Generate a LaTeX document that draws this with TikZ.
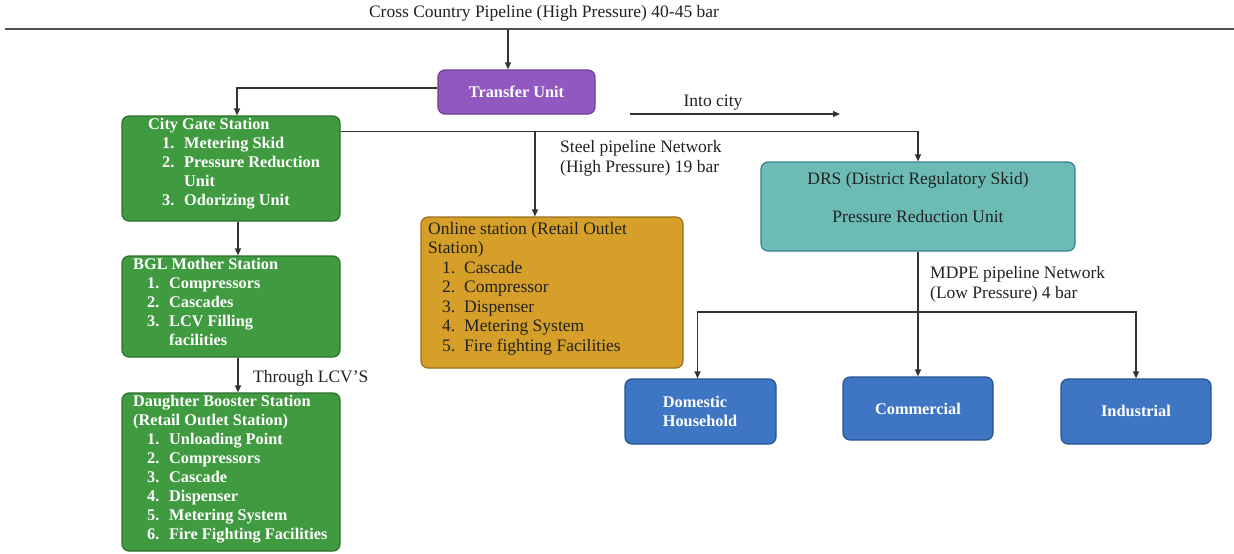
\documentclass[tikz,border=0pt]{standalone}
\usepackage{fontspec}
\setmainfont{Liberation Serif}
\usetikzlibrary{arrows.meta,calc}
\definecolor{cpurple}{HTML}{9158C0}
\definecolor{cpurpled}{HTML}{6A3E97}
\definecolor{cgreen}{HTML}{3F9A40}
\definecolor{cgreend}{HTML}{2D6E2E}
\definecolor{corange}{HTML}{D59F29}
\definecolor{coranged}{HTML}{98701F}
\definecolor{cteal}{HTML}{6CBCB5}
\definecolor{ctealv}{HTML}{3A7F92}
\definecolor{cblue}{HTML}{3E76C4}
\definecolor{cblued}{HTML}{2A548F}
\definecolor{cline}{HTML}{333333}
\definecolor{ctext}{HTML}{222222}
\newcommand\itm[2]{\hspace*{14pt}\makebox[22pt][l]{#1.}#2}
\newcommand\cont{\hspace*{36pt}}
\tikzset{
  box/.style={rectangle, rounded corners=7pt, line width=1.2pt, inner sep=0pt},
  wbold/.style={text=white, font=\fontsize{16.3}{19}\selectfont\bfseries},
  dreg/.style={text=ctext, font=\fontsize{17.5}{19.5}\selectfont},
  boxtext/.style={anchor=north west, inner sep=0pt, align=left},
  lbl/.style={text=ctext, font=\fontsize{17.5}{19.5}\selectfont, inner sep=0pt},
  conn/.style={draw=cline, line width=1.2pt},
  arr/.style={conn, -{Triangle[length=7pt,width=6pt]}},
}
\begin{document}
\begin{tikzpicture}[x=1pt,y=-1pt]
\useasboundingbox (0,0) rectangle (1234,554);
\fill[white] (0,0) rectangle (1234,554);

% boxes
\node[box, fill=cpurple, draw=cpurpled, minimum width=157pt, minimum height=44pt, wbold] (tu) at (516.5,92) {Transfer Unit};
\node[box, fill=cgreen, draw=cgreend, minimum width=218pt, minimum height=105pt] (cg) at (231,168.5) {};
\node[box, fill=cgreen, draw=cgreend, minimum width=218pt, minimum height=101pt] (bgl) at (231,306.5) {};
\node[box, fill=cgreen, draw=cgreend, minimum width=218pt, minimum height=158pt] (dbs) at (231,472) {};
\node[box, fill=corange, draw=coranged, minimum width=262pt, minimum height=151pt] (onl) at (552,292.5) {};
\node[box, fill=cteal, draw=ctealv, minimum width=314pt, minimum height=89pt] (drs) at (918,206.5) {};
\node[box, fill=cblue, draw=cblued, minimum width=151pt, minimum height=65pt] (dom) at (700.5,411.5) {};
\node[box, fill=cblue, draw=cblued, minimum width=150pt, minimum height=63pt] (com) at (918,408.5) {};
\node[box, fill=cblue, draw=cblued, minimum width=150pt, minimum height=65pt] (ind) at (1136,411.5) {};

% box texts
\node[boxtext, wbold] (cgt) at (148,118) {City Gate Station\\
\itm{1}{Metering Skid}\\
\itm{2}{Pressure Reduction}\\
\cont Unit\\
\itm{3}{Odorizing Unit}};
\node[boxtext, wbold] (bglt) at (133,258) {BGL Mother Station\\
\itm{1}{Compressors}\\
\itm{2}{Cascades}\\
\itm{3}{LCV Filling}\\
\cont facilities};
\node[boxtext, wbold] (dbst) at (133,395) {Daughter Booster Station\\
(Retail Outlet Station)\\
\itm{1}{Unloading Point}\\
\itm{2}{Compressors}\\
\itm{3}{Cascade}\\
\itm{4}{Dispenser}\\
\itm{5}{Metering System}\\
\itm{6}{Fire Fighting Facilities}};
\node[boxtext, dreg] (onlt) at (428,222) {Online station (Retail Outlet\\
Station)\\
\itm{1}{Cascade}\\
\itm{2}{Compressor}\\
\itm{3}{Dispenser}\\
\itm{4}{Metering System}\\
\itm{5}{Fire fighting Facilities}};
\node[dreg, inner sep=0pt, align=center] (drst) at (918,197.5) {DRS (District Regulatory Skid)\\[18pt]Pressure Reduction Unit};
\node[wbold, inner sep=0pt, align=left] (domt) at (700,411) {Domestic\\Household};
\node[wbold, inner sep=0pt] (comt) at (918,409) {Commercial};
\node[wbold, inner sep=0pt] (indt) at (1136,411) {Industrial};

% top pipeline
\coordinate (tl) at (5,29);
\coordinate (tr) at (1234,29);
\draw[conn, line width=1.6pt, draw=cline!85] (tl) -- (tr);
\node[lbl] (cclbl) at (544,13) {Cross Country Pipeline (High Pressure) 40-45 bar};
\coordinate (t1) at (508,29);
\draw[arr] (t1) -- (t1 |- tu.north);

% transfer unit to city gate
\draw[arr] ([yshift=4pt]tu.west) -| ([xshift=6pt]cg.north);

% into city
\coordinate (ic1) at (630,114);
\coordinate (ic2) at (840,114);
\draw[arr] (ic1) -- (ic2);
\node[lbl] (iclbl) at (713,103) {Into city};

% city gate to DRS, with branch to online station
\coordinate (c1) at ([yshift=-16pt]cg.north east);
\draw[arr] (c1) -| (drs.north);
\coordinate (c2) at (535,132);
\draw[arr] (c2) -- (c2 |- onl.north);
\node[lbl, anchor=west, align=left] (steel) at (560,158.5) {Steel pipeline Network\\(High Pressure) 19 bar};

% green chain
\draw[arr] ([xshift=7pt]cg.south) -- ([xshift=7pt]bgl.north);
\draw[arr] ([xshift=7pt]bgl.south) -- ([xshift=7pt]dbs.north);
\node[lbl, anchor=west] (lcv) at (253,378) {Through LCV’S};

% DRS to consumers
\draw[arr] (drs.south) -- (com.north);
\coordinate (m) at (918,312);
\draw[arr] (m) -| ([xshift=-3pt]dom.north);
\draw[arr] (m) -| (ind.north);
\node[lbl, anchor=west, align=left] (mdpe) at (930,284.5) {MDPE pipeline Network\\(Low Pressure) 4 bar};
\end{tikzpicture}
\end{document}
